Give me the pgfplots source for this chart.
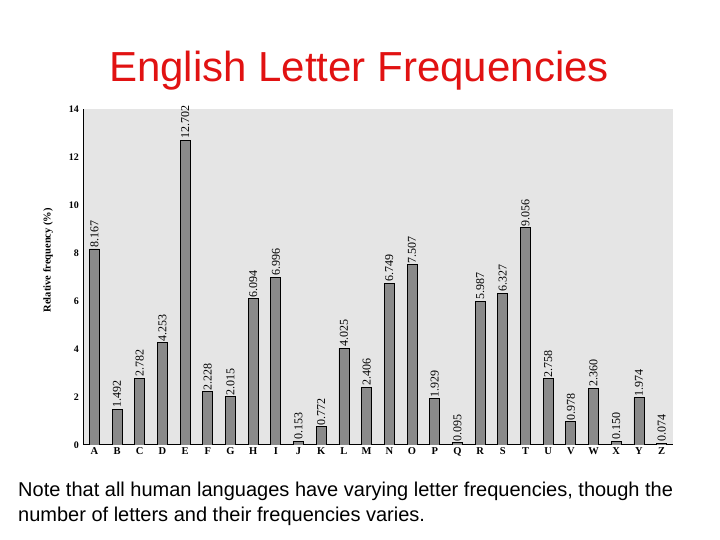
\documentclass[border=0pt]{standalone}
\usepackage{pgfplots}
\pgfplotsset{compat=1.18}
\usepackage{pgfplotstable}
\usepackage{fontspec}
\setmainfont{Liberation Serif}
\newfontfamily\arialfont{Liberation Sans}
\definecolor{bgray}{RGB}{229,229,229}
\definecolor{bargray}{RGB}{138,138,138}
\definecolor{titlered}{RGB}{225,18,18}
\pgfplotstableread{
x y lab
0 8.167 8.167
1 1.492 1.492
2 2.782 2.782
3 4.253 4.253
4 12.702 12.702
5 2.228 2.228
6 2.015 2.015
7 6.094 6.094
8 6.996 6.996
9 0.153 0.153
10 0.772 0.772
11 4.025 4.025
12 2.406 2.406
13 6.749 6.749
14 7.507 7.507
15 1.929 1.929
16 0.095 0.095
17 5.987 5.987
18 6.327 6.327
19 9.056 9.056
20 2.758 2.758
21 0.978 0.978
22 2.360 2.360
23 0.150 0.150
24 1.974 1.974
25 0.074 0.074
}\freqdata
\begin{document}
\begin{tikzpicture}
\path[use as bounding box] (0pt,0pt) rectangle (720pt,540pt);
\node[anchor=base, text=titlered, font=\arialfont\fontsize{42}{48}\selectfont, inner sep=0pt] at (359pt,458pt) {English Letter Frequencies};
\begin{axis}[
  at={(83pt,95pt)}, anchor=south west,
  width=590pt, height=336pt, scale only axis,
  xmin=-0.5, xmax=25.5, ymin=0, ymax=14,
  axis background/.style={fill=bgray, draw=none},
  axis x line*=bottom, axis y line*=left,
  axis line style={line width=1pt, -},
  major tick length=0pt,
  xtick={0,...,25},
  xticklabels={A,B,C,D,E,F,G,H,I,J,K,L,M,N,O,P,Q,R,S,T,U,V,W,X,Y,Z},
  ytick={0,2,...,14},
  /pgf/number format/assume math mode=true,
  xticklabel style={font=\bfseries\fontsize{10.5}{11}\selectfont, inner sep=2pt},
  yticklabel style={font=\bfseries\fontsize{10}{11}\selectfont, inner sep=4pt},
  ylabel={Relative frequency (\%)},
  ylabel style={font=\bfseries\fontsize{10.5}{11}\selectfont, at={(axis description cs:-0.059,0.55)}, anchor=center},
]
\addplot[ybar, bar width=10pt, fill=bargray, draw=black, line width=0.9pt,
  nodes near coords, point meta=explicit symbolic,
  nodes near coords style={rotate=90, anchor=west, inner sep=1pt, font=\fontsize{12}{13}\selectfont, text=black}]
  table[x=x, y=y, meta=lab]{\freqdata};
\end{axis}
\node[anchor=base west, font=\arialfont\fontsize{20}{24}\selectfont, inner sep=0pt] at (18pt,43pt) {Note that all human languages have varying letter frequencies, though the};
\node[anchor=base west, font=\arialfont\fontsize{20}{24}\selectfont, inner sep=0pt] at (18pt,18pt) {number of letters and their frequencies varies.};
\end{tikzpicture}
\end{document}
